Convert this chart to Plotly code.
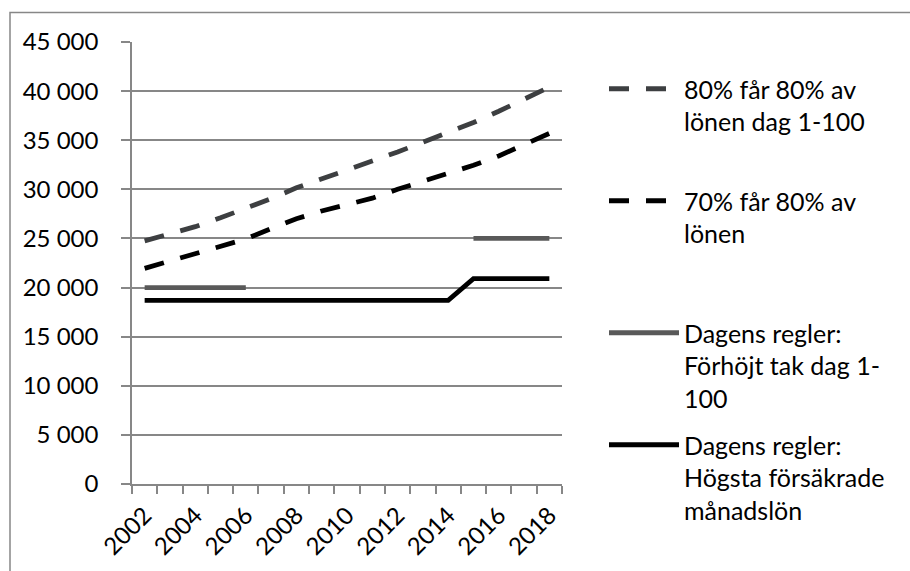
import plotly.graph_objects as go

# Years on the category axis
years = list(range(2002, 2019))

# Monthly salary levels (SEK)
s80_dag1_100 = [24750, 25450, 26200, 27100, 28050, 29050, 30150, 31050, 31950,
                32850, 33800, 34800, 35800, 36800, 37950, 39150, 40400]
s70 = [21950, 22700, 23400, 24150, 24950, 26000, 27000, 27800, 28450,
       29100, 30000, 30800, 31600, 32450, 33400, 34550, 35700]
tak_dag1_100 = [20000, 20000, 20000, 20000, 20000, None, None, None, None,
                None, None, None, None, 25000, 25000, 25000, 25000]
hogsta_manadslon = [18700] * 13 + [20900] * 4

names = [
    "80% får 80% av<br>lönen dag 1-100",
    "70% får 80% av<br>lönen",
    "Dagens regler:<br>Förhöjt tak dag 1-<br>100",
    "Dagens regler:<br>Högsta försäkrade<br>månadslön",
]

x_tickvals = list(range(2002, 2019, 2))
x_boundaries = [y - 0.5 for y in range(2002, 2020)]
y_tickvals = list(range(0, 45001, 5000))

FONT = "Lato"
GRID = "#878787"

fig = go.Figure()
series = [
    (s80_dag1_100, "#3d3f41", "20px,17px", "legend"),
    (s70, "#000000", "20px,17px", "legend2"),
    (tak_dag1_100, "#595959", "solid", "legend3"),
    (hogsta_manadslon, "#000000", "solid", "legend4"),
]
for (vals, color, dash, leg), name in zip(series, names):
    fig.add_trace(go.Scatter(
        x=years, y=vals, mode="lines", name=name, legend=leg,
        line=dict(color=color, width=4.8, dash=dash),
        connectgaps=False,
    ))

legend_common = dict(
    xref="container", yref="container", xanchor="left", yanchor="top",
    font=dict(family=FONT, size=25, color="#000000"),
    bgcolor="rgba(0,0,0,0)", itemwidth=70, valign="top",
)
legend_tops = [66, 178, 310, 422]
legend_keys = ["legend", "legend2", "legend3", "legend4"]
layout_legends = {}
for key, top in zip(legend_keys, legend_tops):
    layout_legends[key] = dict(legend_common, x=604 / 910, y=1 - top / 571)

fig.update_layout(
    width=910, height=571,
    margin=dict(l=132, r=348, t=42, b=87),
    paper_bgcolor="white", plot_bgcolor="white",
    separators=", ",
    font=dict(family=FONT, size=24, color="#000000"),
    showlegend=True,
    xaxis=dict(
        range=[2001.5, 2018.5],
        tickmode="array", tickvals=x_tickvals,
        ticktext=[str(v) for v in x_tickvals],
        tickangle=-45, ticks="", showgrid=False, zeroline=False,
        showline=True, linecolor=GRID, linewidth=1.5,
        minor=dict(tickmode="array", tickvals=x_boundaries, ticks="outside",
                   ticklen=8, tickcolor=GRID, tickwidth=1.5, showgrid=False),
        ticklabelstandoff=6,
        tickfont=dict(family=FONT, size=24),
    ),
    yaxis=dict(
        range=[0, 45000],
        tickmode="array", tickvals=y_tickvals, tickformat=",d",
        ticks="outside", ticklen=9, tickcolor=GRID, tickwidth=1.5,
        showgrid=True, gridcolor=GRID, gridwidth=1.5, zeroline=False,
        showline=True, linecolor=GRID, linewidth=1.5,
        ticklabelstandoff=18,
        tickfont=dict(family=FONT, size=24),
    ),
    shapes=[dict(
        type="rect", xref="paper", yref="paper",
        x0=(10 - 132) / 430, x1=(920 - 132) / 430,
        y0=(484 - 590) / 442, y1=(484 - 12.5) / 442,
        line=dict(color=GRID, width=1.5), fillcolor="rgba(0,0,0,0)", layer="below",
    )],
    **layout_legends,
)

fig.write_html("out.html")
